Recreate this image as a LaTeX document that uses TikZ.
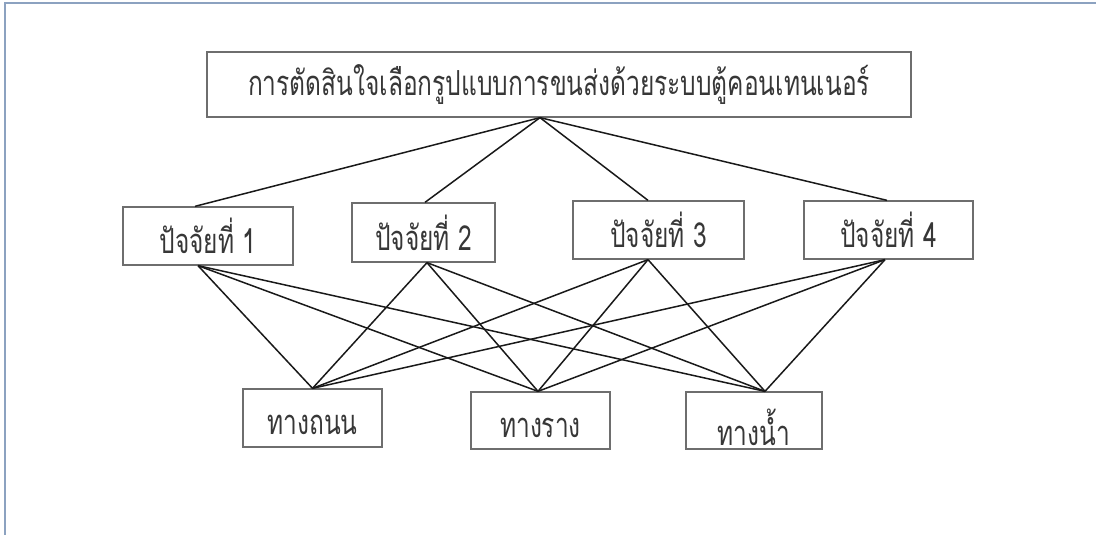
\documentclass[tikz,border=0pt]{standalone}
\usepackage{fontspec}
\newfontfamily\thaifont[Script=Thai]{Loma}
\definecolor{framec}{RGB}{140,162,192}
\definecolor{boxc}{RGB}{110,110,110}
\definecolor{txtc}{RGB}{55,55,55}
\newcommand{\thtxt}[1]{\scalebox{0.98}[1.38]{#1}}
\newcommand{\lowtxt}[1]{\raisebox{-7pt}[\height][\depth]{\scalebox{0.98}[1.38]{#1}}}
\begin{document}
\begin{tikzpicture}[x=1pt,y=-1pt,
  box/.style={draw=boxc,line width=1.3pt,fill=white,inner sep=0pt,font=\thaifont\fontsize{25}{30}\selectfont,text=txtc},
  link/.style={draw=black!90,line width=1.5pt}]
\useasboundingbox (0,0) rectangle (1096,535);
\draw[framec,line width=1.6pt] (1096,3) -- (5,3) -- (5,535);
% nodes
\node[box,minimum width=704pt,minimum height=65pt] (top) at (559,84.5) {\thtxt{การตัดสินใจเลือกรูปแบบการขนส่งด้วยระบบตู้คอนเทนเนอร์}};
\node[box,minimum width=170pt,minimum height=58pt] (f1) at (208,236) {\thtxt{ปัจจัยที่ 1}};
\node[box,minimum width=143pt,minimum height=59pt] (f2) at (423.5,232.5) {\thtxt{ปัจจัยที่ 2}};
\node[box,minimum width=171pt,minimum height=58pt] (f3) at (658.5,230) {\thtxt{ปัจจัยที่ 3}};
\node[box,minimum width=169pt,minimum height=58pt] (f4) at (888.5,230) {\thtxt{ปัจจัยที่ 4}};
\node[box,minimum width=139pt,minimum height=58pt] (road) at (312.5,418) {\lowtxt{ทางถนน}};
\node[box,minimum width=139pt,minimum height=57pt] (rail) at (540.5,420.5) {\lowtxt{ทางราง}};
\node[box,minimum width=136pt,minimum height=57pt] (water) at (754,420.5) {\lowtxt{ทางน้ำ}};
% anchor points
\coordinate (tp) at ([xshift=-19pt]top.south);
\coordinate (f1t) at ([xshift=-13pt]f1.north);
\coordinate (f2t) at ([xshift=1.5pt]f2.north);
\coordinate (f3t) at ([xshift=-10.5pt]f3.north);
\coordinate (f4t) at ([xshift=-1.5pt]f4.north);
\coordinate (f1b) at ([xshift=-10pt]f1.south);
\coordinate (f2b) at ([xshift=3.5pt]f2.south);
\coordinate (f3b) at ([xshift=-10.5pt]f3.south);
\coordinate (f4b) at ([xshift=-3.5pt]f4.south);
\coordinate (rdt) at (road.north);
\coordinate (rlt) at ([xshift=-2.5pt]rail.north);
\coordinate (wtt) at ([xshift=11pt]water.north);
% connectors
\foreach \f in {f1t,f2t,f3t,f4t} \draw[link] (tp) -- (\f);
\foreach \f in {f1b,f2b,f3b,f4b}
  \foreach \b in {rdt,rlt,wtt} \draw[link] (\f) -- (\b);
\end{tikzpicture}
\end{document}
